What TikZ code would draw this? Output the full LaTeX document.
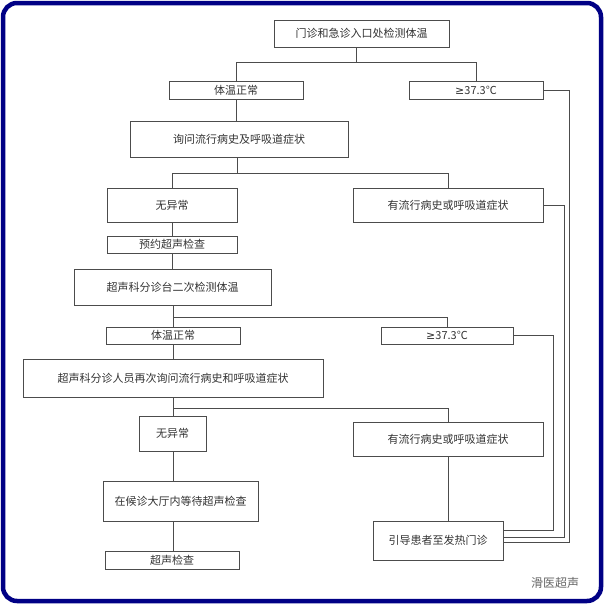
\documentclass[tikz,border=0pt]{standalone}
\usepackage{fontspec}
\newfontfamily\cjk{Noto Sans CJK SC}
\newfontfamily\dv{DejaVu Sans}
\begin{document}
\begin{tikzpicture}[x=1pt,y=-1pt,
  box/.style={draw=black!70,line width=0.6pt,inner sep=0pt,font=\cjk\fontsize{11}{12}\selectfont,text=black!80},
  ln/.style={draw=black!70,line width=0.6pt}]
\useasboundingbox (0,0) rectangle (604,605);
\draw[line width=4.5pt,draw=blue!40!black!80!blue,rounded corners=14pt] (3,3) rectangle (601,601);
\newcommand\bx[6]{\node[box,minimum width=#4-#2,minimum height=#5-#3] (#1) at ({(#2+#4)/2},{(#3+#5)/2}) {#6};}
\bx{a}{274}{20}{449}{47}{门诊和急诊入口处检测体温}
\bx{b}{169}{81}{303}{99}{体温正常}
\bx{c}{409}{81}{543}{99}{{\dv ≥}37.3℃}
\bx{d}{130}{121}{348}{157}{询问流行病史及呼吸道症状}
\bx{e}{107}{188}{237}{222}{无异常}
\bx{f}{353}{188}{543}{222}{有流行病史或呼吸道症状}
\bx{g}{107}{236}{237}{253}{预约超声检查}
\bx{h}{74}{269}{271}{305}{超声科分诊台二次检测体温}
\bx{i}{106}{327}{240}{344}{体温正常}
\bx{j}{381}{327}{513}{344}{{\dv ≥}37.3℃}
\bx{k}{23}{359}{323}{397}{超声科分诊人员再次询问流行病史和呼吸道症状}
\bx{l}{139}{416}{206}{451}{无异常}
\bx{m}{353}{422}{543}{456}{有流行病史或呼吸道症状}
\bx{n}{103}{481}{258}{521}{在候诊大厅内等待超声检查}
\bx{o}{105}{551}{239}{569}{超声检查}
\bx{p}{373}{521}{503}{560}{引导患者至发热门诊}
\coordinate (j1) at (356,62);
\coordinate (j2) at (237,173);
\coordinate (j3) at (173,317);
\coordinate (j4) at (173,408);
\coordinate (x4) at (448,408);
\draw[ln] (a.south -| j1) -- (j1);
\draw[ln] (j1) -| (b.north);
\draw[ln] (j1) -| (c.north);
\draw[ln] (b.south) -- (b.south |- d.north);
\draw[ln] (d.south -| j2) -- (j2);
\draw[ln] (j2) -| (e.north);
\draw[ln] (j2) -| (f.north);
\draw[ln] (e.south) -- (g.north);
\draw[ln] (g.south) -- (g.south |- h.north);
\draw[ln] (h.south -| j3) -- (j3);
\draw[ln] (j3) -- (i.north -| j3);
\draw[ln] (j3) -| (j.north);
\draw[ln] (i.south -| j3) -- (k.north -| j3);
\draw[ln] (k.south -| j4) -- (j4);
\draw[ln] (j4) -- (l.north -| j4);
\draw[ln] (j4) -- (x4) -- (m.north -| x4);
\draw[ln] (l.south -| j4) -- (n.north -| j4);
\draw[ln] (n.south -| j4) -- (o.north -| j4);
\draw[ln] (m.south -| x4) -- (p.north -| x4);
\draw[ln] (j.east) -- (553,335.5) -- (553,530) -- (p.east |- 0,530);
\draw[ln] (f.east) -- (564,205) -- (564,537) -- (p.east |- 0,537);
\draw[ln] (c.east) -- (569,90) -- (569,542) -- (p.east |- 0,542);
\node[font=\cjk\fontsize{12}{12}\selectfont,text=black!60] (w) at (555,583) {滑医超声};
\end{tikzpicture}
\end{document}
